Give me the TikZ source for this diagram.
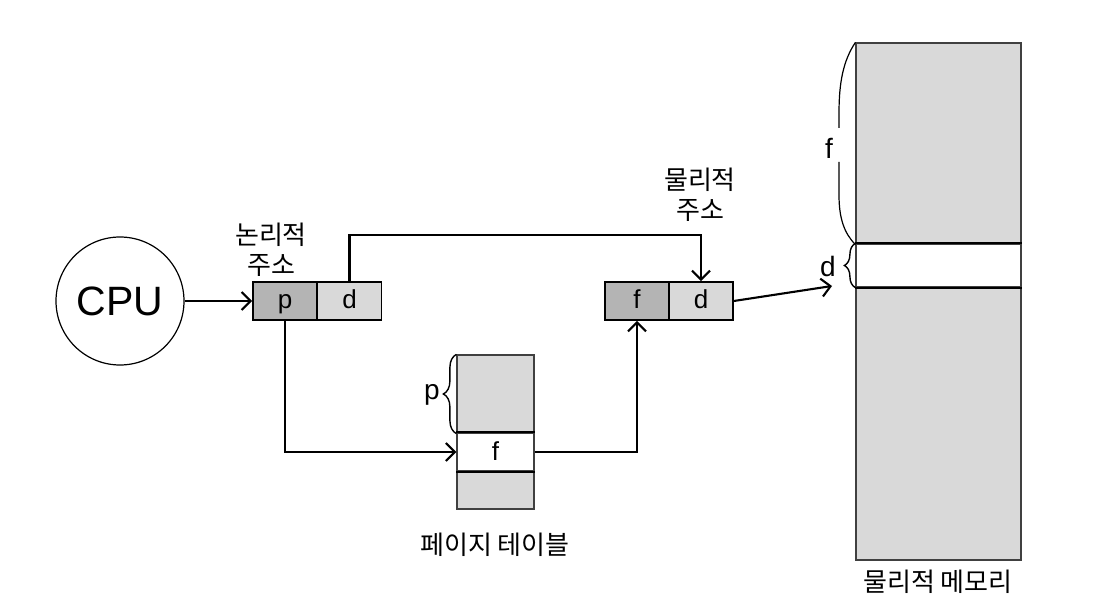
\documentclass[tikz,border=0pt]{standalone}
\usepackage{fontspec}
\setmainfont{Noto Sans CJK KR}
\newfontfamily\latinfont{Liberation Sans}
\usetikzlibrary{arrows.meta,decorations.pathreplacing}
\definecolor{celldark}{RGB}{180,180,180}
\definecolor{celllight}{RGB}{217,217,217}
\tikzset{
  cell/.style={draw=black, line width=1.6pt, minimum width=64pt, minimum height=38pt, inner sep=0pt,
    text height=16pt, text depth=0pt, font=\latinfont\fontsize{26}{26}\selectfont},
  arr/.style={line width=2.1pt, -{Straight Barb[length=9pt,width=18pt,line width=2.1pt]}},
  lbl/.style={align=center, inner sep=0pt, font=\fontsize{26}{30}\selectfont},
  letter/.style={inner sep=0pt, font=\latinfont\fontsize{28}{28}\selectfont},
  bracep/.style={decorate, decoration={brace, amplitude=13pt}, line width=1.4pt},
  block/.style={draw=black!75, line width=1.2pt, inner sep=0pt}
}
\begin{document}
\begin{tikzpicture}[x=1pt, y=1pt]
        \useasboundingbox (0,0) rectangle (1099,613);
        % CPU
            \node[draw, circle, line width=1.2pt, minimum size=128pt, inner sep=0pt,
              font=\latinfont\fontsize{41}{41}\selectfont] (cpu) at (120,312) {CPU};
        % Logical address
            \node[cell, fill=celldark] (lp) at (285,312) {p};
            \node[cell, fill=celllight] (ld) at (349.5,312) {d};
            \node[lbl] (laddr) at (271,363) {논리적\\주소};
        % Physical address
            \node[cell, fill=celldark] (pf) at (637,312) {f};
            \node[cell, fill=celllight] (pd) at (701,312) {d};
            \node[lbl] (paddr) at (700,418) {물리적\\주소};
        % Page table
            \node[block, fill=celllight, minimum width=77pt, minimum height=78pt] (pttop) at (495.5,219) {};
            \node[block, fill=white, minimum width=77pt, minimum height=38pt, text height=16pt, text depth=0pt,
              font=\latinfont\fontsize{26}{26}\selectfont] (ptf) at (495.5,161) {f};
            \node[block, fill=celllight, minimum width=77pt, minimum height=38pt] (ptbot) at (495.5,123) {};
            \draw[line width=2pt] (ptf.north west) -- (ptf.north east);
            \draw[line width=2pt] (ptf.south west) -- (ptf.south east);
            \node[lbl] (ptlabel) at (495,68) {페이지 테이블};
        % Physical memory
            \node[block, fill=celllight, minimum width=165pt, minimum height=201pt] (memtop) at (938.5,469.5) {};
            \node[block, fill=white, minimum width=165pt, minimum height=43pt] (memband) at (938.5,347.5) {};
            \node[block, fill=celllight, minimum width=165pt, minimum height=273pt] (membot) at (938.5,189.5) {};
            \draw[line width=2pt] (memband.north west) -- (memband.north east);
            \draw[line width=2pt] (memband.south west) -- (memband.south east);
            \node[lbl] (memlabel) at (938,31) {물리적 메모리};
        % Braces
            \draw[bracep] (pttop.south west) -- (pttop.north west);
            \node[letter] (plabel) at (432,218) {p};
            \draw[bracep, decoration={amplitude=11pt}] (memband.south west) -- (memband.north west);
            \node[letter] (dlabel) at (828,347) {d};
            \draw[line width=1.2pt] (memtop.north west) .. controls (843,552) and (839,530) .. (839,500) -- (839,485);
            \draw[line width=1.2pt] (839,451) -- (839,418) .. controls (839,395) and (844,380) .. (memtop.south west);
            \node[letter] (flabel) at (829,465) {f};
        % Connectors
            \coordinate (memin) at (832,327);
            \draw[arr] (cpu) -- (lp);
            \draw[arr] (ld.north) -- ++(0,46) -| (pd.north);
            \draw[arr] (lp.south) |- (ptf.west);
            \draw[arr] (ptf.east) -| (pf.south);
            \draw[arr] (pd.east) -- (memin);
        \end{tikzpicture}
\end{document}
